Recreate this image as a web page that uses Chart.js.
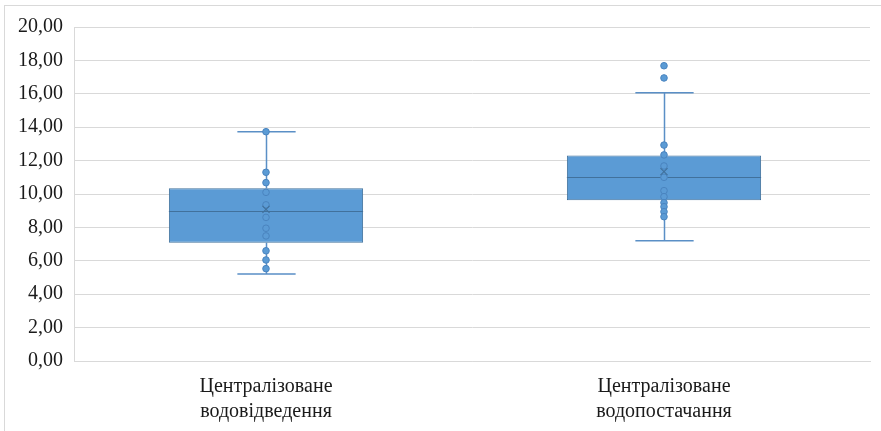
<!DOCTYPE html>
<html>
<head>
<meta charset="utf-8">
<script src="https://cdn.jsdelivr.net/npm/chart.js@4/dist/chart.umd.min.js"></script>
<style>
  body { margin: 0; background: #fff; }
  #frame { position: absolute; left: 4px; top: 5px; width: 900px; height: 450px; border: 1px solid #d9d9d9; }
  #wrap { position: absolute; left: 0; top: 0; width: 881px; height: 431px; }
</style>
</head>
<body>
<div id="frame"></div>
<div id="wrap"><canvas id="box"></canvas></div>
<script>
// ---- data ----
const categories = ["Централізоване водовідведення", "Централізоване водопостачання"];
const q1 = [7.08, 9.62];
const q3 = [10.34, 12.30];
const median = [9.00, 11.00];
const mean = [9.08, 11.34];
const whiskerMin = [5.21, 7.20];
const whiskerMax = [13.73, 16.07];
const pointsA = [13.73, 11.30, 10.68, 10.10, 9.35, 8.60, 7.95, 7.49, 6.60, 6.05, 5.53];
const pointsB = [17.68, 16.95, 12.93, 12.34, 11.68, 11.00, 10.20, 9.84, 9.48, 9.24, 8.94, 8.64];
const yTicks = [0, 2, 4, 6, 8, 10, 12, 14, 16, 18, 20];

const BLUE = "#5b9bd5";
const DARK = "#41719c";
const FONT = "'Liberation Serif', 'Times New Roman', serif";
// Excel draws the boxes a little left of the category centre
const SHIFT = -7;

const boxExtras = {
  id: "boxExtras",
  beforeDatasetsDraw(chart) {
    const { ctx, scales: { x, y } } = chart;
    const bars = chart.getDatasetMeta(0).data;
    ctx.save();
    ctx.translate(SHIFT, 0);
    // whiskers
    ctx.strokeStyle = "#5a8fc6";
    ctx.lineWidth = 1.5;
    categories.forEach((c, i) => {
      const cx = Math.round(x.getPixelForValue(i)) + 0.5;
      const cap = bars[i].width * 0.15;
      const top = y.getPixelForValue(whiskerMax[i]);
      const bot = y.getPixelForValue(whiskerMin[i]);
      ctx.beginPath();
      ctx.moveTo(cx, y.getPixelForValue(q3[i]));
      ctx.lineTo(cx, top);
      ctx.moveTo(cx, y.getPixelForValue(q1[i]));
      ctx.lineTo(cx, bot);
      ctx.moveTo(cx - cap, top);
      ctx.lineTo(cx + cap, top);
      ctx.moveTo(cx - cap, bot);
      ctx.lineTo(cx + cap, bot);
      ctx.stroke();
    });
  },
  afterDatasetDraw(chart, args) {
    if (args.index !== 0) return;
    const { ctx, scales: { y } } = chart;
    const bars = chart.getDatasetMeta(0).data;
    ctx.save();
    ctx.strokeStyle = DARK;
    ctx.lineWidth = 1;
    bars.forEach((b, i) => {
      const py = Math.round(y.getPixelForValue(median[i])) + 0.5;
      ctx.beginPath();
      ctx.moveTo(b.x - b.width / 2, py);
      ctx.lineTo(b.x + b.width / 2, py);
      ctx.stroke();
    });
    ctx.restore();
  },
  afterDatasetsDraw(chart) {
    chart.ctx.restore();
  }
};

const pointData = [
  ...pointsA.map(v => ({ x: categories[0], y: v })),
  ...pointsB.map(v => ({ x: categories[1], y: v }))
];

new Chart(document.getElementById("box"), {
  type: "bar",
  data: {
    labels: categories,
    datasets: [
      {
        type: "bar",
        data: categories.map((c, i) => [q1[i], q3[i]]),
        backgroundColor: BLUE,
        borderColor: DARK,
        borderWidth: 1,
        borderSkipped: false,
        barPercentage: 1,
        categoryPercentage: 0.488,
        order: 3
      },
      {
        type: "line",
        data: pointData,
        showLine: false,
        pointRadius: 3.3,
        pointBackgroundColor: BLUE,
        pointBorderColor: "#4a84bf",
        pointBorderWidth: 1,
        order: 2
      },
      {
        type: "line",
        data: mean.map((v, i) => ({ x: categories[i], y: v })),
        showLine: false,
        pointStyle: "crossRot",
        pointRadius: 5,
        pointBorderColor: DARK,
        pointBorderWidth: 1.2,
        order: 1
      }
    ]
  },
  options: {
    responsive: true,
    maintainAspectRatio: false,
    animation: false,
    layout: { padding: { left: 0, right: 11, top: 27, bottom: 0 } },
    plugins: { legend: { display: false }, tooltip: { enabled: false } },
    scales: {
      x: {
        grid: { display: false },
        border: { color: "#d9d9d9" },
        ticks: {
          color: "#1a1a1a",
          padding: 5,
          maxRotation: 0,
          labelOffset: SHIFT,
          font: { family: FONT, size: 20, lineHeight: 1.25 },
          callback: function (value) { return this.getLabelForValue(value).split(" "); }
        },
        afterFit: (axis) => { axis.height = 70; }
      },
      y: {
        min: 0,
        max: 20,
        afterBuildTicks: (axis) => { axis.ticks = yTicks.map(v => ({ value: v })); },
        grid: { color: "#d9d9d9", drawTicks: false },
        border: { color: "#d9d9d9" },
        ticks: {
          color: "#1a1a1a",
          padding: 11,
          font: { family: FONT, size: 20 },
          callback: (v) => v.toFixed(2).replace(".", ",")
        },
        afterFit: (axis) => { axis.width = 74; }
      }
    }
  },
  plugins: [boxExtras]
});
</script>
</body>
</html>
